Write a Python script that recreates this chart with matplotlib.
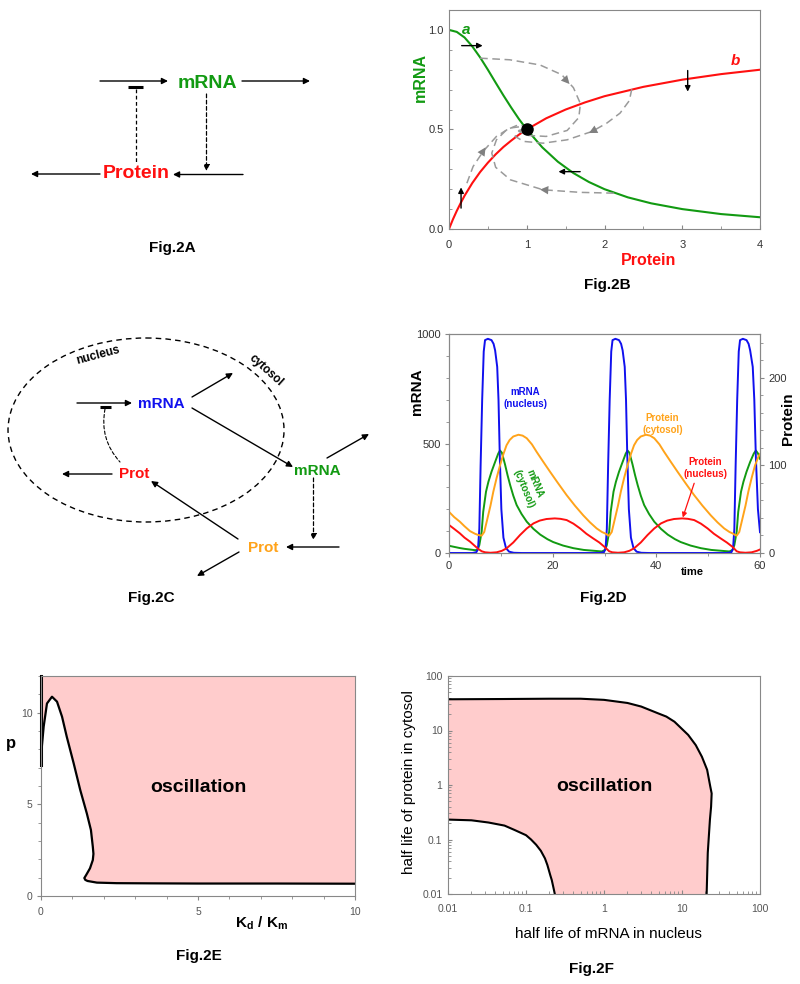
import matplotlib.pyplot as plt
import matplotlib.patches as mpatches
from matplotlib.ticker import MultipleLocator, FixedLocator, FuncFormatter, LogLocator, NullFormatter

plt.rcParams['font.family'] = ['Liberation Sans', 'DejaVu Sans']
plt.rcParams['mathtext.fontset'] = 'custom'
plt.rcParams['mathtext.rm'] = 'Liberation Sans:bold'
plt.rcParams['mathtext.it'] = 'Liberation Sans:bold'
plt.rcParams['mathtext.bf'] = 'Liberation Sans:bold'

GREEN = '#129a12'
RED = '#ff1010'
BLUE = '#1010ee'
ORANGE = '#ffa31a'
PINK = '#ffcccc'
GRAY = '#888888'
TXT = '#333333'

# ---------------- data: Fig.2B (nullclines) ----------------
b_green_p = [0, 0.1, 0.2, 0.3, 0.4, 0.5, 0.6, 0.7, 0.8, 0.9, 1.0, 1.2, 1.4, 1.6, 1.8, 2.0, 2.3, 2.6, 3.0, 3.5, 4.0]
b_green_m = [1.0, 0.99, 0.962, 0.917, 0.862, 0.80, 0.735, 0.671, 0.61, 0.552, 0.50, 0.41, 0.338, 0.281, 0.236, 0.20, 0.159, 0.129, 0.10, 0.075, 0.059]
b_red_p = [0, 0.05, 0.1, 0.15, 0.2, 0.3, 0.4, 0.5, 0.6, 0.7, 0.8, 0.9, 1.0, 1.25, 1.5, 1.75, 2.0, 2.5, 3.0, 3.5, 4.0]
b_red_m = [0, 0.048, 0.091, 0.13, 0.167, 0.231, 0.286, 0.333, 0.375, 0.412, 0.444, 0.474, 0.50, 0.556, 0.60, 0.636, 0.667, 0.714, 0.75, 0.778, 0.80]
# grey dashed trajectories
traj1 = [(0.40, 0.858), (0.78, 0.85), (1.17, 0.824), (1.45, 0.775), (1.60, 0.71), (1.69, 0.63), (1.67, 0.56),
         (1.52, 0.495), (1.25, 0.465), (1.02, 0.47), (0.9, 0.49), (0.98, 0.505)]
traj2 = [(2.35, 0.702), (2.32, 0.645), (2.2, 0.582), (2.03, 0.532), (1.84, 0.49), (1.52, 0.448), (1.21, 0.431),
         (0.96, 0.44), (0.85, 0.465), (0.9, 0.495), (1.0, 0.505)]
traj3 = [(2.12, 0.18), (1.69, 0.184), (1.21, 0.197), (0.79, 0.247), (0.6, 0.31), (0.55, 0.381), (0.61, 0.448),
         (0.74, 0.498), (0.89, 0.523), (1.0, 0.515)]
traj4 = [(0.23, 0.23), (0.31, 0.314), (0.44, 0.39), (0.61, 0.465), (0.78, 0.507), (0.94, 0.515)]
traj_heads = [((1.42, 0.785), (1.55, 0.728)), ((1.95, 0.512), (1.80, 0.482)),
              ((1.35, 0.193), (1.17, 0.198)), ((0.38, 0.355), (0.47, 0.41))]
b_black_arrows = [((0.163, 0.921), (0.433, 0.921)), ((3.07, 0.796), (3.07, 0.69)),
                  ((1.687, 0.288), (1.408, 0.288)), ((0.155, 0.105), (0.155, 0.209))]

# ---------------- data: Fig.2D (time courses) ----------------
d_blue_t = [0, 4.5, 5.3, 5.6, 5.85, 6.1, 6.4, 6.7, 6.95, 7.5, 8.2, 8.6, 8.9, 9.3, 9.55, 9.8, 10.1, 10.5, 11.0, 11.6, 12.5, 14,
            29, 29.9, 30.2, 30.45, 30.7, 31.0, 31.3, 31.55, 32.1, 32.8, 33.2, 33.5, 33.9, 34.15, 34.4, 34.7, 35.1, 35.6, 36.2, 37.1, 38.6,
            53.6, 54.5, 54.8, 55.05, 55.3, 55.6, 55.9, 56.15, 56.7, 57.4, 57.8, 58.1, 58.6, 58.9, 59.2, 59.6, 60]
d_blue = [0, 0, 4, 20, 110, 400, 700, 920, 972, 978, 972, 955, 925, 850, 700, 440, 200, 70, 22, 6, 1, 0,
          0, 4, 20, 110, 400, 700, 920, 972, 978, 972, 955, 925, 850, 700, 440, 200, 70, 22, 6, 1, 0,
          0, 4, 20, 110, 400, 700, 920, 972, 978, 972, 955, 925, 850, 700, 440, 200, 95]
d_green_t = [0, 1, 2, 3, 4, 5, 5.5, 5.85, 6.3, 6.6, 7.14, 7.6, 8.2, 8.9, 9.5, 9.84, 10.2, 10.8, 11.3, 11.8, 12.4, 13.05,
             14, 15, 16.3, 17.6, 19, 20.1, 22, 24, 26, 28, 29.5,
             30.1, 30.45, 30.9, 31.2, 31.74, 32.2, 32.8, 33.5, 34.1, 34.44, 34.8, 35.4, 35.9, 36.4, 37.0, 37.65,
             38.6, 39.6, 40.9, 42.2, 43.6, 44.7, 46.6, 48.6, 50.6, 52.6, 54.1,
             54.7, 55.05, 55.5, 55.8, 56.34, 56.8, 57.4, 58.1, 58.8, 59.2, 59.6, 60]
d_green = [33, 28, 23, 19, 16, 13, 14, 36, 97, 188, 280, 325, 371, 416, 454, 468, 458, 405, 355, 310, 262, 219,
           178, 143, 110, 84, 63, 50, 34, 22, 14, 10, 7,
           14, 36, 97, 188, 280, 325, 371, 416, 454, 468, 458, 405, 355, 310, 262, 219,
           178, 143, 110, 84, 63, 50, 34, 22, 14, 10, 7,
           14, 36, 97, 188, 280, 325, 371, 416, 454, 468, 455, 430]
d_orange_t = [0, 1, 2.1, 3, 4.05, 5, 5.66, 6.3, 6.8, 7.27, 8, 8.55, 9.2, 9.84, 10.5, 11.1, 11.7, 12.4, 13.4, 14.2, 15,
              16, 16.9, 18.2, 19.5, 21, 22.7, 24.3, 25.9, 27.2, 28.5, 29.5, 30.1, 30.6, 30.9,
              31.4, 31.87, 32.6, 33.15, 33.8, 34.44, 35.1, 35.7, 36.3, 37.0, 38.0, 38.8, 39.6, 40.6, 41.5, 42.8,
              44.1, 45.6, 47.3, 48.9, 50.5, 51.8, 53.1, 54.1, 54.7, 55.2, 55.5,
              56.0, 56.47, 57.2, 57.75, 58.4, 59.04, 59.7, 60]
d_orange = [47, 41, 35.7, 30.5, 25, 22, 20.5, 19.8, 24, 35.7, 54, 70, 86, 100, 113, 123, 129, 133, 135, 134, 131,
            124, 115.5, 104, 92.7, 80, 66, 54, 43, 35, 28, 24, 22.4, 20.5, 19.8,
            24, 35.7, 54, 70, 86, 100, 113, 123, 129, 133, 135, 134, 131, 124, 115.5, 104,
            92.7, 80, 66, 54, 43, 35, 28, 24, 22.4, 20.5, 19.8,
            24, 35.7, 54, 70, 86, 100, 110, 113]
d_red_t = [0, 1, 2.1, 3, 4.05, 5, 5.66, 6.3, 6.95, 8, 9.2, 10.2, 11.1, 12.4, 13.7, 15, 16.3, 17.5, 18.8, 20.4,
           21.5, 22.7, 24, 25.3, 26.5, 27.8, 29, 30, 30.9,
           31.5, 32.6, 33.8, 34.8, 35.7, 37.0, 38.3, 39.6, 40.9, 42.1, 43.4, 45.0,
           46.1, 47.3, 48.6, 49.9, 51.1, 52.4, 53.6, 54.7, 55.5, 56.1, 57.2, 58.4, 59.4, 60]
d_red = [32, 27.5, 22.4, 17.5, 13, 8, 4.6, 2, 0.8, 0.3, 0.8, 2.5, 5.3, 12, 20.5, 28, 33.8, 37, 38.8, 39.5,
         39, 37.6, 33.5, 28, 22, 16.7, 12, 7, 2,
         0.8, 0.3, 0.8, 2.5, 5.3, 12, 20.5, 28, 33.8, 37, 38.8, 39.5,
         39, 37.6, 33.5, 28, 22, 16.7, 12, 7, 2, 0.8, 0.3, 0.8, 2.5, 4]

# ---------------- data: Fig.2E (oscillation region) ----------------
e_x = [0, 0.03, 0.085, 0.19, 0.35, 0.51, 0.67, 0.82, 1.04, 1.25, 1.46, 1.59, 1.65, 1.67, 1.65, 1.56, 1.44,
       1.38, 1.41, 1.48, 1.78, 2.41, 3.5, 5, 7.5, 10]
e_p = [7.15, 8.2, 9.24, 10.5, 10.87, 10.6, 9.78, 8.69, 7.24, 5.78, 4.5, 3.6, 2.69, 2.3, 1.96, 1.51, 1.15,
       0.98, 0.88, 0.82, 0.73, 0.7, 0.69, 0.68, 0.68, 0.67]

# ---------------- data: Fig.2F (oscillation region, log-log) ----------------
f_outer_x = [0.01, 0.05, 0.2, 0.5, 1.0, 2.0, 3.0, 5.0, 6.3, 8, 12, 15, 18, 21, 23, 24, 23.6, 22.8, 21.4, 20.7]
f_outer_y = [37.4, 37.8, 38.3, 38.3, 36.5, 32, 27.5, 20.5, 18, 14.5, 8.3, 5.4, 3.3, 1.9, 0.95, 0.7, 0.4, 0.23, 0.057, 0.01]
f_inner_x = [0.01, 0.02, 0.033, 0.053, 0.071, 0.1, 0.116, 0.135, 0.155, 0.175, 0.188, 0.205, 0.214, 0.225, 0.234]
f_inner_y = [0.232, 0.225, 0.205, 0.18, 0.15, 0.12, 0.1, 0.08, 0.062, 0.045, 0.034, 0.022, 0.018, 0.013, 0.01]

fig = plt.figure(figsize=(8, 9.84), dpi=100)

# overlay in pixel coordinates for the diagrams and captions
ov = fig.add_axes([0, 0, 1, 1])
ov.set_xlim(0, 800)
ov.set_ylim(984, 0)
ov.axis('off')


def arrow(ax, p0, p1, ls='-', color='black', lw=1.0, ms=9, style='-|>'):
    ax.annotate('', xy=p1, xytext=p0,
                arrowprops=dict(arrowstyle=style, color=color, lw=lw, ls=ls,
                                mutation_scale=ms, shrinkA=0, shrinkB=0))


def bar(ax, x0, x1, y):
    ax.plot([x0, x1], [y, y], color='black', lw=2.2, solid_capstyle='butt')


# ---- Fig.2A ----
arrow(ov, (100, 81), (168, 81))
ov.text(207, 83, 'mRNA', color=GREEN, fontsize=14, fontweight='bold', ha='center', va='center')
arrow(ov, (242, 81), (310, 81))
bar(ov, 128, 143, 87)
ov.plot([135.5, 135.5], [89, 163], color='black', lw=0.9, ls=(0, (3, 2)))
arrow(ov, (206.5, 94), (206.5, 171), ls=(0, (3, 2)), lw=0.9)
ov.text(136, 174, 'Protein', color=RED, fontsize=14, fontweight='bold', ha='center', va='center')
arrow(ov, (243, 174.5), (173, 174.5))
arrow(ov, (100, 174), (31, 174))
ov.text(172, 248, 'Fig.2A', fontsize=11, fontweight='bold', ha='center', va='center')

# ---- Fig.2C ----
ov.add_patch(mpatches.Ellipse((146, 430), 276, 184, fill=False, ls=(0, (4, 3)), lw=1.0, color='black'))
ov.text(98, 355, 'nucleus', fontsize=8.5, fontweight='bold', rotation=15, ha='center', va='center')
ov.text(266, 370, 'cytosol', fontsize=8.5, fontweight='bold', rotation=-42, ha='center', va='center')
arrow(ov, (77, 403), (132, 403))
bar(ov, 100, 111, 407)
ov.annotate('', xy=(120, 462), xytext=(105, 409),
            arrowprops=dict(arrowstyle='-', color='black', lw=0.8, ls=(0, (3, 2)),
                            connectionstyle='arc3,rad=0.25', shrinkA=0, shrinkB=0))
ov.text(161, 404, 'mRNA', color=BLUE, fontsize=11, fontweight='bold', ha='center', va='center')
arrow(ov, (192, 397), (233, 373))
arrow(ov, (192, 408), (293, 467))
ov.text(317, 471, 'mRNA', color=GREEN, fontsize=11, fontweight='bold', ha='center', va='center')
arrow(ov, (327, 458), (369, 434))
arrow(ov, (313.5, 478), (313.5, 540), ls=(0, (3, 2)), lw=0.9)
arrow(ov, (339, 547), (286, 547))
ov.text(263, 548, 'Prot', color=ORANGE, fontsize=11, fontweight='bold', ha='center', va='center')
arrow(ov, (238, 539), (151, 481))
arrow(ov, (239, 552), (197, 576))
ov.text(134, 474, 'Prot', color=RED, fontsize=11, fontweight='bold', ha='center', va='center')
arrow(ov, (112, 474), (62, 474))
ov.text(151, 598, 'Fig.2C', fontsize=11, fontweight='bold', ha='center', va='center')

# captions of the plots
ov.text(607, 285, 'Fig.2B', fontsize=11, fontweight='bold', ha='center', va='center')
ov.text(603, 598, 'Fig.2D', fontsize=11, fontweight='bold', ha='center', va='center')
ov.text(199, 956, 'Fig.2E', fontsize=11, fontweight='bold', ha='center', va='center')
ov.text(591, 969, 'Fig.2F', fontsize=11, fontweight='bold', ha='center', va='center')


def frame(ax):
    for s in ax.spines.values():
        s.set_color(GRAY)
        s.set_linewidth(0.8)


def ylab(ax, text, x, y, **kw):
    ax.set_ylabel(text, va='center', ha='center', **kw)
    ax.yaxis.set_label_coords(x, y)


def xlab(ax, text, x, y, **kw):
    ax.set_xlabel(text, va='center', ha='center', **kw)
    ax.xaxis.set_label_coords(x, y)


# ---- Fig.2B ----
axB = fig.add_axes([449 / 800, 1 - 229 / 984, 311 / 800, 219 / 984])
frame(axB)
axB.plot(b_green_p, b_green_m, color=GREEN, lw=1.5)
axB.plot(b_red_p, b_red_m, color=RED, lw=1.5)
for tr in (traj1, traj2, traj3, traj4):
    xs, ys = zip(*tr)
    axB.plot(xs, ys, color='#9a9a9a', lw=1.1, ls=(0, (5, 3)))
for p0, p1 in traj_heads:
    arrow(axB, p0, p1, color='#808080', lw=0, ms=10, style='-|>,head_length=0.6,head_width=0.3')
for p0, p1 in b_black_arrows:
    arrow(axB, p0, p1, lw=1.0, ms=8)
axB.plot([1.0], [0.5], 'o', color='black', ms=8, zorder=5)
axB.text(0.227, 1.0, 'a', color=GREEN, fontsize=11, fontweight='bold', fontstyle='italic', ha='center', va='center')
axB.text(3.68, 0.845, 'b', color=RED, fontsize=11, fontweight='bold', fontstyle='italic', ha='center', va='center')
axB.set_xlim(0, 4)
axB.set_ylim(0, 1.1)
axB.xaxis.set_major_locator(FixedLocator([0, 1, 2, 3, 4]))
axB.xaxis.set_minor_locator(MultipleLocator(0.5))
axB.yaxis.set_major_locator(FixedLocator([0, 0.5, 1.0]))
axB.yaxis.set_minor_locator(MultipleLocator(0.1))
axB.yaxis.set_major_formatter(FuncFormatter(lambda v, _: f'{v:.1f}'))
axB.tick_params(which='both', direction='in', color=GRAY, labelsize=8, labelcolor=TXT, pad=4)
axB.tick_params(axis='x', which='both', pad=8)
axB.tick_params(which='major', length=3)
axB.tick_params(which='minor', length=2.5)
ylab(axB, 'mRNA', -0.093, 0.694, color=GREEN, fontsize=11.5, fontweight='bold')
xlab(axB, 'Protein', 0.643, -0.142, color=RED, fontsize=11.5, fontweight='bold')

# ---- Fig.2D ----
axD = fig.add_axes([449 / 800, 1 - 553 / 984, 311 / 800, 219 / 984])
frame(axD)
axD.plot(d_blue_t, d_blue, color=BLUE, lw=1.4, zorder=4)
axD.plot(d_green_t, d_green, color=GREEN, lw=1.4, zorder=3)
axD.set_xlim(0, 60)
axD.set_ylim(0, 1000)
axD.xaxis.set_major_locator(FixedLocator([0, 20, 40, 60]))
axD.xaxis.set_minor_locator(MultipleLocator(10))
axD.yaxis.set_major_locator(FixedLocator([0, 500, 1000]))
axD.yaxis.set_minor_locator(MultipleLocator(100))
axD.tick_params(which='both', direction='out', color=GRAY, labelsize=8, labelcolor=TXT, pad=3)
axD.tick_params(which='major', length=3)
axD.tick_params(which='minor', length=2.5)
ylab(axD, 'mRNA', -0.103, 0.735, fontsize=11, fontweight='bold')
xlab(axD, 'time', 0.781, -0.087, fontsize=8, fontweight='bold')
axD2 = axD.twinx()
frame(axD2)
axD2.plot(d_orange_t, d_orange, color=ORANGE, lw=1.4, zorder=2)
axD2.plot(d_red_t, d_red, color=RED, lw=1.4, zorder=2)
axD2.set_ylim(0, 250)
axD2.yaxis.set_major_locator(FixedLocator([0, 100, 200]))
axD2.yaxis.set_minor_locator(MultipleLocator(20))
axD2.tick_params(which='both', direction='out', color=GRAY, labelsize=8, labelcolor=TXT, pad=3)
axD2.tick_params(which='major', length=3)
axD2.tick_params(which='minor', length=2.5)
ylab(axD2, 'Protein', 1.09, 0.612, fontsize=11, fontweight='bold')
axD2.text(14.7, 177, 'mRNA\n(nucleus)', color=BLUE, fontsize=7, fontweight='bold', ha='center', va='center',
          linespacing=1.3)
axD2.text(41.2, 147, 'Protein\n(cytosol)', color=ORANGE, fontsize=7, fontweight='bold', ha='center', va='center',
          linespacing=1.3)
axD2.text(49.4, 97, 'Protein\n(nucleus)', color=RED, fontsize=7, fontweight='bold', ha='center', va='center',
          linespacing=1.3)
axD2.text(15.5, 76, 'mRNA\n(cytosol)', color=GREEN, fontsize=7, fontweight='bold', ha='center', va='center',
          rotation=-68, linespacing=1.3)
axD2.annotate('', xy=(45.1, 40.5), xytext=(47.3, 79.6),
              arrowprops=dict(arrowstyle='-|>', color=RED, lw=0.9, mutation_scale=7, shrinkA=0, shrinkB=0))

# ---- Fig.2E ----
axE = fig.add_axes([41 / 800, 1 - 896 / 984, 314 / 800, 220 / 984])
frame(axE)
poly_x = list(e_x) + [10, 0]
poly_y = list(e_p) + [12, 12]
axE.fill(poly_x, poly_y, color=PINK, lw=0)
axE.plot(e_x, e_p, color='black', lw=1.6)
axE.plot([0, 0], [e_p[0], 12], color='black', lw=2.2, clip_on=False)
axE.text(5.0, 5.9, 'oscillation', fontsize=14, fontweight='bold', ha='center', va='center')
axE.set_xlim(0, 10)
axE.set_ylim(0, 12)
axE.xaxis.set_major_locator(FixedLocator([0, 5, 10]))
axE.xaxis.set_minor_locator(MultipleLocator(1))
axE.yaxis.set_major_locator(FixedLocator([0, 5, 10]))
axE.yaxis.set_minor_locator(MultipleLocator(1))
axE.tick_params(which='both', direction='out', color=GRAY, labelsize=7.5, labelcolor='#555555', pad=3)
axE.tick_params(axis='x', which='both', pad=5)
axE.tick_params(which='major', length=3)
axE.tick_params(which='minor', length=2.5)
ylab(axE, 'p', -0.096, 0.695, fontsize=12, fontweight='bold', rotation=0)
xlab(axE, r'$\mathrm{K_d\ /\ K_m}$', 0.704, -0.123, fontsize=11)

# ---- Fig.2F ----
axF = fig.add_axes([448 / 800, 1 - 894 / 984, 312 / 800, 218 / 984])
frame(axF)
axF.set_xscale('log')
axF.set_yscale('log')
poly_x = list(f_outer_x) + list(f_inner_x[::-1])
poly_y = list(f_outer_y) + list(f_inner_y[::-1])
axF.fill(poly_x, poly_y, color=PINK, lw=0)
axF.plot(f_outer_x, f_outer_y, color='black', lw=1.5)
axF.plot(f_inner_x, f_inner_y, color='black', lw=1.5)
axF.text(1.0, 0.92, 'oscillation', fontsize=14, fontweight='bold', ha='center', va='center')
axF.set_xlim(0.01, 100)
axF.set_ylim(0.01, 100)
fmt = FuncFormatter(lambda v, _: f'{v:g}')
for axis in (axF.xaxis, axF.yaxis):
    axis.set_major_locator(LogLocator(base=10, numticks=10))
    axis.set_minor_locator(LogLocator(base=10, subs=range(2, 10), numticks=20))
    axis.set_major_formatter(fmt)
    axis.set_minor_formatter(NullFormatter())
axF.tick_params(which='both', direction='in', color=GRAY, labelsize=7.5, labelcolor='#555555', pad=4)
axF.tick_params(axis='x', which='both', pad=7)
axF.tick_params(which='major', length=3)
axF.tick_params(which='minor', length=2)
ylab(axF, 'half life of protein in cytosol', -0.125, 0.514, fontsize=11)
xlab(axF, 'half life of mRNA in nucleus', 0.513, -0.183, fontsize=11)

fig.savefig('out.png', dpi=100)
